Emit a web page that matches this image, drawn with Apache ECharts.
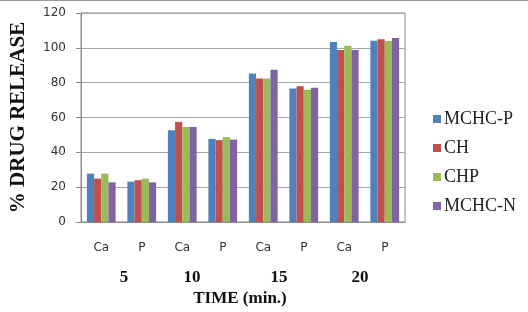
<!DOCTYPE html>
<html>
<head>
<meta charset="utf-8">
<script src="https://cdn.jsdelivr.net/npm/echarts@6/dist/echarts.min.js"></script>
<style>
  html, body { margin: 0; padding: 0; background: #fff; }
  #chart { width: 528px; height: 312px; }
</style>
</head>
<body>
<div id="chart"></div>
<script>
// categories along the x axis (sample type at each time)
const categories = ['Ca', 'P', 'Ca', 'P', 'Ca', 'P', 'Ca', 'P'];
// time labels written under each pair
const timeLabels = ['5', '10', '15', '20'];
const yTicks = [0, 20, 40, 60, 80, 100, 120];

const seriesNames = ['MCHC-P', 'CH', 'CHP', 'MCHC-N'];
const mchcP = [27.8, 23.2, 52.7, 47.7, 85.3, 76.7, 103.3, 104.1];
const ch    = [24.9, 24.0, 57.5, 47.0, 82.4, 78.0, 98.7, 105.0];
const chp   = [27.8, 24.9, 54.6, 48.7, 82.4, 75.9, 101.2, 103.9];
const mchcN = [22.8, 22.8, 54.6, 47.3, 87.4, 77.1, 98.7, 105.6];

const colors = ['#4F81BD', '#C0504D', '#9BBB59', '#8064A2'];

const chart = echarts.init(document.getElementById('chart'));

const serif = '"Liberation Serif", "Times New Roman", serif';
const sans = '"DejaVu Sans", Verdana, sans-serif';

// x positions of the hand placed time labels
const timeX = [124, 192, 279, 360];

chart.setOption({
  animation: false,
  color: colors,
  grid: {
    left: 77, right: 123, top: 13, bottom: 90,
    show: true, borderColor: '#8c8c8c', borderWidth: 1
  },
  legend: {
    orient: 'vertical',
    left: 428, top: 105,
    itemWidth: 8, itemHeight: 8, itemGap: 11,
    icon: 'rect',
    textStyle: { fontFamily: serif, fontSize: 18, color: '#222', padding: [0, 0, 0, -2] },
    data: seriesNames
  },
  xAxis: {
    type: 'category',
    data: categories,
    axisLine: { lineStyle: { color: '#8c8c8c' } },
    axisTick: { show: false },
    axisLabel: { margin: 20, fontFamily: sans, fontSize: 12, color: '#333' }
  },
  yAxis: {
    type: 'value',
    min: 0, max: 120, interval: 20,
    axisLine: { show: true, lineStyle: { color: '#8c8c8c' } },
    axisTick: { show: true, length: 5, lineStyle: { color: '#8c8c8c' } },
    splitLine: { lineStyle: { color: '#a6a6a6' } },
    axisLabel: { margin: 15, fontFamily: sans, fontSize: 12, color: '#333',
      formatter: v => yTicks.includes(v) ? String(v) : '' },
    name: '% DRUG RELEASE',
    nameLocation: 'middle',
    nameGap: 52,
    nameTextStyle: { fontFamily: serif, fontSize: 21, fontWeight: 'bold', color: '#111' }
  },
  graphic: [
    { type: 'line', shape: { x1: 0, y1: 0.5, x2: 528, y2: 0.5 }, style: { stroke: '#999', lineWidth: 1 } },
    ...timeLabels.map((t, i) => ({
      type: 'text', x: timeX[i], y: 278,
      style: { text: t, fontFamily: serif, fontSize: 17, fontWeight: 'bold', fill: '#111',
        align: 'center', verticalAlign: 'middle' }
    })),
    { type: 'text', x: 240, y: 299,
      style: { text: 'TIME (min.)', fontFamily: serif, fontSize: 17, fontWeight: 'bold', fill: '#111',
        align: 'center', verticalAlign: 'middle' } }
  ],
  series: [mchcP, ch, chp, mchcN].map((d, i) => ({
    name: seriesNames[i],
    type: 'bar',
    data: d,
    barGap: '0%',
    barCategoryGap: '29%'
  }))
});
</script>
</body>
</html>
